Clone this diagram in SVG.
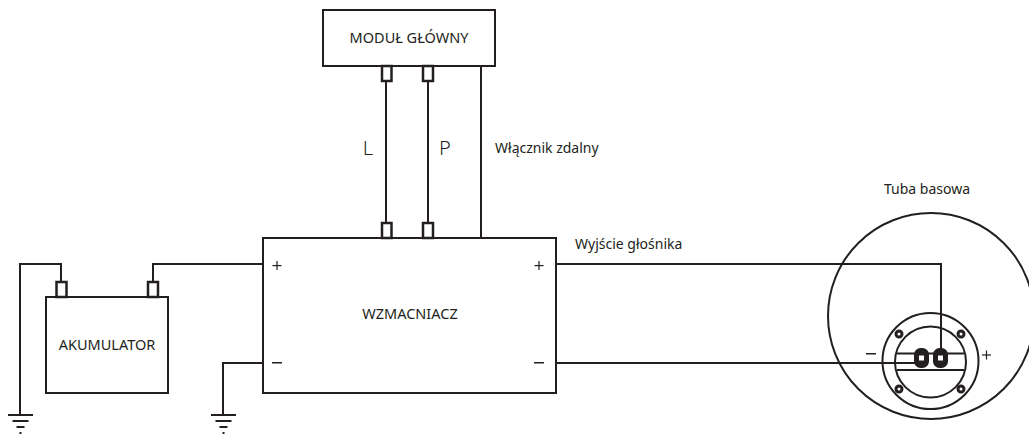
<svg xmlns="http://www.w3.org/2000/svg" width="1029" height="435" viewBox="0 0 1029 435">
<style>
.l{fill:none;stroke:#231f20;stroke-width:2}
.b{fill:#fff;stroke:#231f20;stroke-width:2}
.t{fill:#fff;stroke:#231f20;stroke-width:2.500}
.g{fill:none;stroke:#231f20;stroke-width:2}
.s{fill:#231f20;stroke:none}
text{font-family:"Noto Sans","Open Sans","Liberation Sans",sans-serif;font-size:14px;fill:#231f20}
.c{font-size:14.500px}
.m{text-anchor:middle}
.big{font-size:20px;font-weight:300}
</style>
<defs>
<g id="gnd"><path class="g" d="M-12.500 0H12.500M-8 6H8M-4 12H4"/><rect class="s" x="-1" y="17" width="2" height="2"/></g>
<g id="screw"><circle cx="0" cy="0" r="3" fill="#fff" stroke="#231f20" stroke-width="3"/></g>
<g id="term"><rect x="-5.500" y="-8" width="11" height="16" rx="4.500" fill="#231f20" stroke="#231f20" stroke-width="4"/><rect x="-2.500" y="-2.500" width="5" height="5" fill="#fff"/></g>
</defs>
<g id="connectors">
<path class="l" d="M386 66V238M428 66V238M481 66V238"/>
<path class="l" d="M61 297V264H20V414"/>
<path class="l" d="M153 297V264H263"/>
<path class="l" d="M263 363H223V414"/>
<path class="l" d="M556 264H941V356"/>
<path class="l" d="M556 363H916"/>
</g>
<g id="modul">
<rect class="b" x="323" y="10" width="172" height="56"/>
<rect class="t" x="382" y="66" width="9.500" height="15"/>
<rect class="t" x="423" y="66" width="10" height="15"/>
<text class="m c" x="409" y="43">MODUŁ GŁÓWNY</text>
</g>
<g id="wzmacniacz">
<rect class="b" x="263" y="238" width="293" height="155"/>
<rect class="t" x="382" y="223" width="9.500" height="15"/>
<rect class="t" x="423" y="223" width="10" height="15"/>
<text class="m c" x="410" y="319">WZMACNIACZ</text>
<rect class="s" x="272.500" y="265" width="9" height="1.200"/><rect class="s" x="276.400" y="261" width="1.200" height="9"/>
<rect class="s" x="534.500" y="265" width="9" height="1.200"/><rect class="s" x="538.400" y="261" width="1.200" height="9"/>
<rect class="s" x="272" y="362" width="10" height="1.500"/>
<rect class="s" x="534" y="362" width="10" height="1.500"/>
</g>
<g id="akumulator">
<rect class="b" x="46" y="297" width="122" height="96"/>
<rect class="t" x="56.500" y="282" width="10" height="15"/>
<rect class="t" x="148" y="282" width="10" height="15"/>
<text class="m c" x="107" y="350">AKUMULATOR</text>
</g>
<g id="masa1"><use href="#gnd" x="20.500" y="415"/></g>
<g id="masa2"><use href="#gnd" x="223.500" y="415"/></g>
<g id="tuba">
<circle class="l" cx="931" cy="316" r="103"/>
<circle class="l" cx="930.500" cy="361" r="48"/>
<circle class="l" cx="930.500" cy="362" r="35.500"/>
<path class="l" d="M897 353.500H964M897 370H964"/>
<use href="#screw" x="899" y="334"/>
<use href="#screw" x="961" y="334"/>
<use href="#screw" x="899" y="389"/>
<use href="#screw" x="961" y="389"/>
<use href="#term" x="921.500" y="358"/>
<use href="#term" x="940.500" y="358"/>
<rect class="s" x="866" y="353" width="10" height="1.500"/>
<rect class="s" x="982" y="354.400" width="9" height="1.200"/><rect class="s" x="985.900" y="350.500" width="1.200" height="9"/>
<text class="m" x="927" y="194">Tuba basowa</text>
</g>
<g id="etykiety">
<text x="495" y="153">Włącznik zdalny</text>
<text x="575" y="248.500">Wyjście głośnika</text>
<text class="m big" x="368" y="155">L</text>
<text class="m big" x="445" y="155">P</text>
</g>
</svg>
